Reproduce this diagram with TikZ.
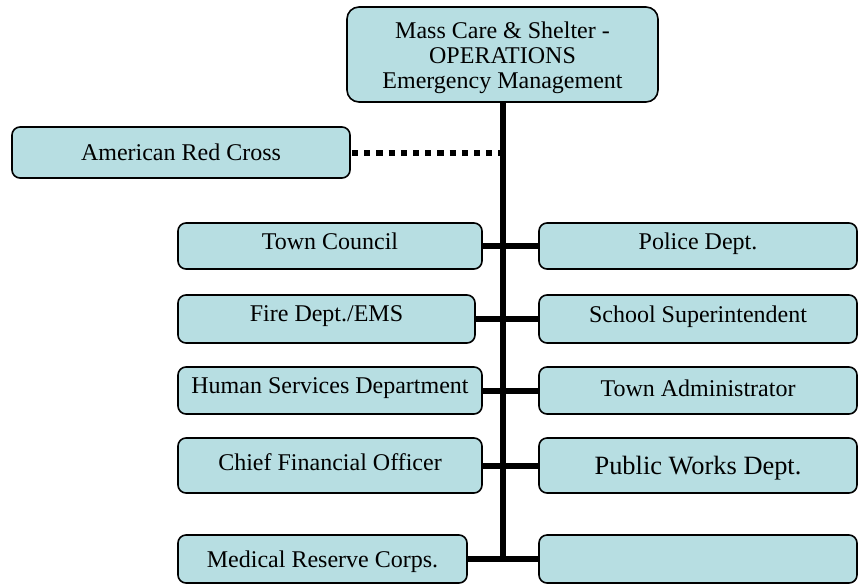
\documentclass[tikz,border=0pt]{standalone}
\usepackage{fontspec}
\setmainfont{Liberation Serif}
\definecolor{boxfill}{RGB}{183,222,226}
\begin{document}
\begin{tikzpicture}[x=1pt,y=-1pt,
  orgbox/.style={draw=black, line width=1.6pt, fill=boxfill, rounded corners=8pt,
    inner sep=0pt, outer sep=0pt, align=center,
    font=\fontsize{24}{25}\selectfont},
  conn/.style={line width=6pt, black, line cap=butt},
  dotline/.style={line width=6pt, black, dash pattern=on 6.2pt off 6pt}]
\useasboundingbox (0,0) rectangle (858,584);
% boxes
\node[orgbox, rounded corners=12pt, minimum width=311pt, minimum height=95pt,
  text height=72pt, text depth=5pt] (top) at (502.5,54.5)
  {Mass Care \& Shelter -\\OPERATIONS\\Emergency Management};
\node[orgbox, minimum width=338pt, minimum height=51pt, text height=22pt, text depth=6pt] (arc) at (181,152.5) {American Red Cross};
% left column
\node[orgbox, minimum width=304pt, minimum height=46pt, text height=12pt, text depth=6pt] (tc) at (330,246) {Town Council};
\node[orgbox, minimum width=297pt, minimum height=48pt, text height=10pt, text depth=6pt] (fd) at (326.5,319) {Fire Dept./EMS};
\node[orgbox, minimum width=304pt, minimum height=47pt, text height=12pt, text depth=6pt] (hs) at (330,390.5) {Human Services Department};
\node[orgbox, minimum width=304pt, minimum height=55pt, text height=15pt, text depth=6pt] (cfo) at (330,465.5) {Chief Financial Officer};
\node[orgbox, minimum width=289pt, minimum height=48pt, text height=23pt, text depth=6pt] (mrc) at (322.5,559) {Medical Reserve Corps.};
% right column
\node[orgbox, minimum width=318pt, minimum height=46pt, text height=12pt, text depth=6pt] (pd) at (698,246) {Police Dept.};
\node[orgbox, minimum width=318pt, minimum height=48pt, text height=12pt, text depth=6pt] (ss) at (698,319) {School Superintendent};
\node[orgbox, minimum width=318pt, minimum height=47pt, text height=18pt, text depth=6pt] (ta) at (698,390.5) {Town Administrator};
\node[orgbox, minimum width=318pt, minimum height=55pt, text height=23pt, text depth=6pt,
  font=\fontsize{26.4}{30}\selectfont] (pw) at (698,465.5) {Public Works Dept.};
\node[orgbox, minimum width=318pt, minimum height=48pt] (emp) at (698,559) {};
% trunk
\coordinate (trunkend) at (top.south |- mrc.east);
\draw[conn] (top.south) -- ([yshift=3pt]trunkend);
% connectors
\draw[conn] (tc.east) -- (pd.west);
\draw[conn] (fd.east) -- (ss.west);
\draw[conn] (hs.east) -- (ta.west);
\draw[conn] (cfo.east) -- (pw.west);
\draw[conn] (mrc.east) -- (emp.west);
% dotted link
\coordinate (arcj) at (arc.east -| top.south);
\draw[dotline] ([xshift=2pt]arc.east) -- ([xshift=-3pt]arcj);
\end{tikzpicture}
\end{document}
